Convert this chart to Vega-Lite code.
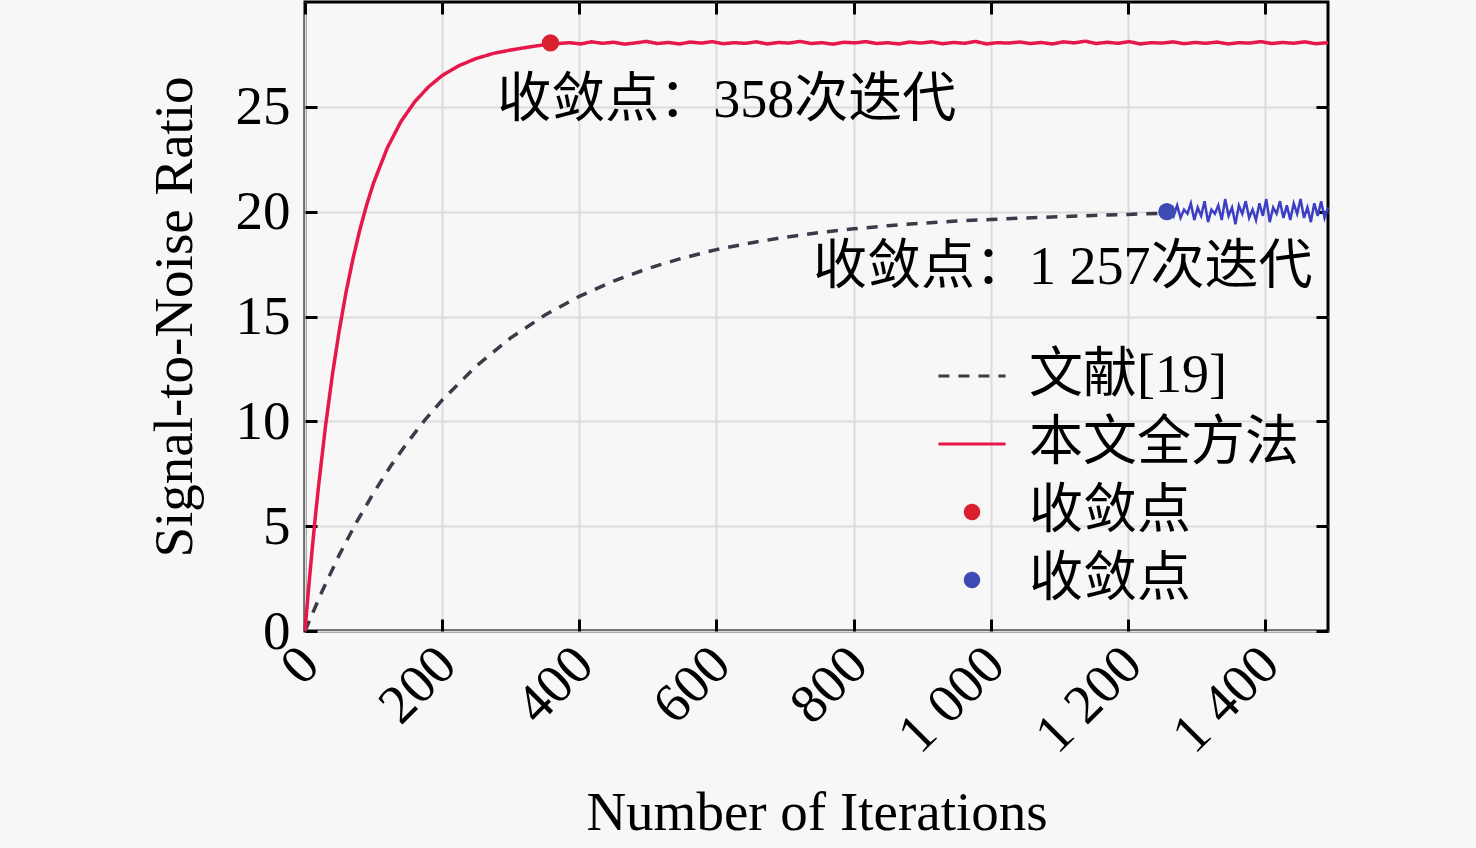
{
  "$schema": "https://vega.github.io/schema/vega-lite/v6.json",
  "width": 1023,
  "height": 629,
  "autosize": {"type": "none"},
  "padding": {"left": 305, "top": 2, "right": 148, "bottom": 217},
  "background": "#f7f7f7",
  "config": {
    "font": "Liberation Serif, Noto Sans CJK SC",
    "view": {"stroke": "black", "strokeWidth": 3},
    "axis": {
      "labelFont": "Liberation Serif",
      "labelFontSize": 55,
      "labelColor": "black",
      "titleFont": "Liberation Serif",
      "titleFontSize": 55,
      "titleFontWeight": "normal",
      "titleColor": "black",
      "domain": false,
      "offset": -12,
      "tickSize": 12,
      "tickWidth": 3,
      "tickColor": "black",
      "grid": false,
      "gridColor": "#dcdcdc",
      "gridWidth": 2,
      "labelFlush": false,
      "labelOverlap": false
    }
  },
  "datasets": {
    "curves": [
      {"series": "文献[19]", "iteration": 0, "snr": 0},
      {"series": "文献[19]", "iteration": 25, "snr": 1.9},
      {"series": "文献[19]", "iteration": 50, "snr": 3.63},
      {"series": "文献[19]", "iteration": 75, "snr": 5.18},
      {"series": "文献[19]", "iteration": 100, "snr": 6.59},
      {"series": "文献[19]", "iteration": 125, "snr": 7.87},
      {"series": "文献[19]", "iteration": 150, "snr": 9.02},
      {"series": "文献[19]", "iteration": 175, "snr": 10.07},
      {"series": "文献[19]", "iteration": 200, "snr": 11.01},
      {"series": "文献[19]", "iteration": 250, "snr": 12.64},
      {"series": "文献[19]", "iteration": 300, "snr": 13.98},
      {"series": "文献[19]", "iteration": 350, "snr": 15.07},
      {"series": "文献[19]", "iteration": 400, "snr": 15.96},
      {"series": "文献[19]", "iteration": 450, "snr": 16.69},
      {"series": "文献[19]", "iteration": 500, "snr": 17.29},
      {"series": "文献[19]", "iteration": 550, "snr": 17.78},
      {"series": "文献[19]", "iteration": 600, "snr": 18.19},
      {"series": "文献[19]", "iteration": 650, "snr": 18.51},
      {"series": "文献[19]", "iteration": 700, "snr": 18.78},
      {"series": "文献[19]", "iteration": 750, "snr": 19.0},
      {"series": "文献[19]", "iteration": 800, "snr": 19.18},
      {"series": "文献[19]", "iteration": 850, "snr": 19.33},
      {"series": "文献[19]", "iteration": 900, "snr": 19.45},
      {"series": "文献[19]", "iteration": 950, "snr": 19.55},
      {"series": "文献[19]", "iteration": 1000, "snr": 19.63},
      {"series": "文献[19]", "iteration": 1050, "snr": 19.7},
      {"series": "文献[19]", "iteration": 1100, "snr": 19.76},
      {"series": "文献[19]", "iteration": 1150, "snr": 19.82},
      {"series": "文献[19]", "iteration": 1200, "snr": 19.87},
      {"series": "文献[19]", "iteration": 1257, "snr": 19.93},
      {"series": "本文全方法", "iteration": 0, "snr": 0},
      {"series": "本文全方法", "iteration": 5, "snr": 1.94},
      {"series": "本文全方法", "iteration": 10, "snr": 3.74},
      {"series": "本文全方法", "iteration": 15, "snr": 5.42},
      {"series": "本文全方法", "iteration": 20, "snr": 6.98},
      {"series": "本文全方法", "iteration": 30, "snr": 9.79},
      {"series": "本文全方法", "iteration": 40, "snr": 12.23},
      {"series": "本文全方法", "iteration": 50, "snr": 14.34},
      {"series": "本文全方法", "iteration": 60, "snr": 16.18},
      {"series": "本文全方法", "iteration": 70, "snr": 17.76},
      {"series": "本文全方法", "iteration": 80, "snr": 19.14},
      {"series": "本文全方法", "iteration": 90, "snr": 20.33},
      {"series": "本文全方法", "iteration": 100, "snr": 21.37},
      {"series": "本文全方法", "iteration": 120, "snr": 23.04},
      {"series": "本文全方法", "iteration": 140, "snr": 24.3},
      {"series": "本文全方法", "iteration": 160, "snr": 25.24},
      {"series": "本文全方法", "iteration": 180, "snr": 25.95},
      {"series": "本文全方法", "iteration": 200, "snr": 26.49},
      {"series": "本文全方法", "iteration": 225, "snr": 26.97},
      {"series": "本文全方法", "iteration": 250, "snr": 27.31},
      {"series": "本文全方法", "iteration": 275, "snr": 27.55},
      {"series": "本文全方法", "iteration": 300, "snr": 27.71},
      {"series": "本文全方法", "iteration": 330, "snr": 27.87},
      {"series": "本文全方法", "iteration": 358, "snr": 28.0},
      {"series": "本文全方法", "iteration": 370, "snr": 28.02},
      {"series": "本文全方法", "iteration": 386, "snr": 28.06},
      {"series": "本文全方法", "iteration": 402, "snr": 28.0},
      {"series": "本文全方法", "iteration": 418, "snr": 28.1},
      {"series": "本文全方法", "iteration": 434, "snr": 28.03},
      {"series": "本文全方法", "iteration": 450, "snr": 28.08},
      {"series": "本文全方法", "iteration": 466, "snr": 27.99},
      {"series": "本文全方法", "iteration": 482, "snr": 28.05},
      {"series": "本文全方法", "iteration": 498, "snr": 28.12},
      {"series": "本文全方法", "iteration": 514, "snr": 28.02},
      {"series": "本文全方法", "iteration": 530, "snr": 28.07},
      {"series": "本文全方法", "iteration": 546, "snr": 28.0},
      {"series": "本文全方法", "iteration": 562, "snr": 28.09},
      {"series": "本文全方法", "iteration": 578, "snr": 28.04},
      {"series": "本文全方法", "iteration": 594, "snr": 28.11},
      {"series": "本文全方法", "iteration": 610, "snr": 28.01},
      {"series": "本文全方法", "iteration": 626, "snr": 28.06},
      {"series": "本文全方法", "iteration": 642, "snr": 28.03},
      {"series": "本文全方法", "iteration": 658, "snr": 28.1},
      {"series": "本文全方法", "iteration": 674, "snr": 28.0},
      {"series": "本文全方法", "iteration": 690, "snr": 28.07},
      {"series": "本文全方法", "iteration": 706, "snr": 28.04},
      {"series": "本文全方法", "iteration": 722, "snr": 28.12},
      {"series": "本文全方法", "iteration": 738, "snr": 28.02},
      {"series": "本文全方法", "iteration": 754, "snr": 28.06},
      {"series": "本文全方法", "iteration": 770, "snr": 27.99},
      {"series": "本文全方法", "iteration": 786, "snr": 28.08},
      {"series": "本文全方法", "iteration": 802, "snr": 28.05},
      {"series": "本文全方法", "iteration": 818, "snr": 28.11},
      {"series": "本文全方法", "iteration": 834, "snr": 28.02},
      {"series": "本文全方法", "iteration": 850, "snr": 28.06},
      {"series": "本文全方法", "iteration": 866, "snr": 28.0},
      {"series": "本文全方法", "iteration": 882, "snr": 28.09},
      {"series": "本文全方法", "iteration": 898, "snr": 28.04},
      {"series": "本文全方法", "iteration": 914, "snr": 28.1},
      {"series": "本文全方法", "iteration": 930, "snr": 28.01},
      {"series": "本文全方法", "iteration": 946, "snr": 28.07},
      {"series": "本文全方法", "iteration": 962, "snr": 28.03},
      {"series": "本文全方法", "iteration": 978, "snr": 28.12},
      {"series": "本文全方法", "iteration": 994, "snr": 28.0},
      {"series": "本文全方法", "iteration": 1010, "snr": 28.06},
      {"series": "本文全方法", "iteration": 1026, "snr": 28.04},
      {"series": "本文全方法", "iteration": 1042, "snr": 28.09},
      {"series": "本文全方法", "iteration": 1058, "snr": 28.02},
      {"series": "本文全方法", "iteration": 1074, "snr": 28.07},
      {"series": "本文全方法", "iteration": 1090, "snr": 28.0},
      {"series": "本文全方法", "iteration": 1106, "snr": 28.1},
      {"series": "本文全方法", "iteration": 1122, "snr": 28.05},
      {"series": "本文全方法", "iteration": 1138, "snr": 28.13},
      {"series": "本文全方法", "iteration": 1154, "snr": 28.02},
      {"series": "本文全方法", "iteration": 1170, "snr": 28.08},
      {"series": "本文全方法", "iteration": 1186, "snr": 28.03},
      {"series": "本文全方法", "iteration": 1202, "snr": 28.11},
      {"series": "本文全方法", "iteration": 1218, "snr": 28.0},
      {"series": "本文全方法", "iteration": 1234, "snr": 28.06},
      {"series": "本文全方法", "iteration": 1250, "snr": 28.04},
      {"series": "本文全方法", "iteration": 1266, "snr": 28.1},
      {"series": "本文全方法", "iteration": 1282, "snr": 28.01},
      {"series": "本文全方法", "iteration": 1298, "snr": 28.07},
      {"series": "本文全方法", "iteration": 1314, "snr": 28.03},
      {"series": "本文全方法", "iteration": 1330, "snr": 28.09},
      {"series": "本文全方法", "iteration": 1346, "snr": 28.0},
      {"series": "本文全方法", "iteration": 1362, "snr": 28.06},
      {"series": "本文全方法", "iteration": 1378, "snr": 28.04},
      {"series": "本文全方法", "iteration": 1394, "snr": 28.11},
      {"series": "本文全方法", "iteration": 1410, "snr": 28.02},
      {"series": "本文全方法", "iteration": 1426, "snr": 28.07},
      {"series": "本文全方法", "iteration": 1442, "snr": 28.03},
      {"series": "本文全方法", "iteration": 1458, "snr": 28.1},
      {"series": "本文全方法", "iteration": 1474, "snr": 28.01},
      {"series": "本文全方法", "iteration": 1492, "snr": 28.06}
    ],
    "noise": [
      {"iteration": 1257, "snr": 20.0},
      {"iteration": 1262, "snr": 20.2},
      {"iteration": 1267, "snr": 19.8},
      {"iteration": 1272, "snr": 20.3},
      {"iteration": 1277, "snr": 19.7},
      {"iteration": 1282, "snr": 20.1},
      {"iteration": 1287, "snr": 19.9},
      {"iteration": 1292, "snr": 20.4},
      {"iteration": 1297, "snr": 19.6},
      {"iteration": 1302, "snr": 20.2},
      {"iteration": 1307, "snr": 19.8},
      {"iteration": 1312, "snr": 20.5},
      {"iteration": 1317, "snr": 19.5},
      {"iteration": 1322, "snr": 20.1},
      {"iteration": 1327, "snr": 19.9},
      {"iteration": 1332, "snr": 20.3},
      {"iteration": 1337, "snr": 19.6},
      {"iteration": 1342, "snr": 20.6},
      {"iteration": 1347, "snr": 19.8},
      {"iteration": 1352, "snr": 20.2},
      {"iteration": 1357, "snr": 19.4},
      {"iteration": 1362, "snr": 20.3},
      {"iteration": 1367, "snr": 19.9},
      {"iteration": 1372, "snr": 20.5},
      {"iteration": 1377, "snr": 19.7},
      {"iteration": 1382, "snr": 20.1},
      {"iteration": 1387, "snr": 19.6},
      {"iteration": 1392, "snr": 20.4},
      {"iteration": 1397, "snr": 19.8},
      {"iteration": 1402, "snr": 20.6},
      {"iteration": 1407, "snr": 19.5},
      {"iteration": 1412, "snr": 20.2},
      {"iteration": 1417, "snr": 19.9},
      {"iteration": 1422, "snr": 20.5},
      {"iteration": 1427, "snr": 19.7},
      {"iteration": 1432, "snr": 20.3},
      {"iteration": 1437, "snr": 19.6},
      {"iteration": 1442, "snr": 20.4},
      {"iteration": 1447, "snr": 19.9},
      {"iteration": 1452, "snr": 20.6},
      {"iteration": 1457, "snr": 19.7},
      {"iteration": 1462, "snr": 20.2},
      {"iteration": 1467, "snr": 19.5},
      {"iteration": 1472, "snr": 20.4},
      {"iteration": 1477, "snr": 19.8},
      {"iteration": 1482, "snr": 20.5},
      {"iteration": 1487, "snr": 19.7},
      {"iteration": 1492, "snr": 20.2}
    ],
    "points": [
      {"series": "收敛点A", "iteration": 358, "snr": 28.05},
      {"series": "收敛点B", "iteration": 1257, "snr": 20.0}
    ],
    "one": [{}]
  },
  "layer": [
    {
      "data": {"name": "noise"},
      "mark": {"type": "line", "strokeWidth": 2.5, "color": "#3c3fc4"},
      "encoding": {
        "x": {
          "field": "iteration",
          "type": "quantitative",
          "axis": {"orient": "bottom", "offset": 0, "grid": true, "ticks": false, "labels": false, "title": null, "values": [0, 200, 400, 600, 800, 1000, 1200, 1400]}
        },
        "y": {
          "field": "snr",
          "type": "quantitative",
          "axis": {"orient": "left", "offset": 0, "grid": true, "ticks": false, "labels": false, "title": null, "values": [0, 5, 10, 15, 20, 25]}
        }
      }
    },
    {
      "data": {"name": "curves"},
      "mark": {"type": "line", "strokeWidth": 3.5},
      "encoding": {
        "x": {
          "field": "iteration",
          "type": "quantitative",
          "scale": {"domain": [0, 1492], "nice": false},
          "axis": {
            "orient": "bottom",
            "values": [0, 200, 400, 600, 800, 1000, 1200, 1400],
            "labelAngle": -45,
            "labelPadding": 6,
            "labelOffset": -14,
            "labelExpr": "datum.value >= 1000 ? replace(format(datum.value, ','), ',', ' ') : datum.label",
            "title": "Number of Iterations",
            "titlePadding": 24
          }
        },
        "y": {
          "field": "snr",
          "type": "quantitative",
          "scale": {"domain": [0, 30], "nice": false},
          "axis": {
            "orient": "left",
            "values": [0, 5, 10, 15, 20, 25],
            "labelPadding": 15,
            "title": "Signal-to-Noise Ratio",
            "titlePadding": 32
          }
        },
        "color": {
          "field": "series",
          "type": "nominal",
          "scale": {
            "domain": ["文献[19]", "本文全方法", "收敛点A", "收敛点B"],
            "range": ["#3a3a48", "#e6174b", "#d8202f", "#3d4bb5"]
          },
          "legend": {
            "title": null,
            "orient": "none",
            "legendX": 640,
            "legendY": 347,
            "padding": 0,
            "symbolSize": 180,
            "symbolStrokeWidth": 3,
            "symbolOpacity": 1,
            "labelFont": "Liberation Serif, Noto Sans CJK SC",
            "labelFontSize": 54,
            "labelColor": "black",
            "labelLimit": 0,
            "labelOffset": 30,
            "rowPadding": 14,
            "labelExpr": "indexof(datum.label, '收敛点') == 0 ? '收敛点' : datum.label"
          }
        },
        "strokeDash": {
          "field": "series",
          "type": "nominal",
          "scale": {
            "domain": ["文献[19]", "本文全方法", "收敛点A", "收敛点B"],
            "range": [[11, 9], [1, 0], [1, 0], [1, 0]]
          }
        }
      }
    },
    {
      "data": {"name": "points"},
      "mark": {"type": "point", "filled": true, "opacity": 1, "size": 300},
      "encoding": {
        "x": {
          "field": "iteration",
          "type": "quantitative",
          "axis": {"orient": "top", "labels": false, "title": null, "values": [0, 200, 400, 600, 800, 1000, 1200, 1400]}
        },
        "y": {
          "field": "snr",
          "type": "quantitative",
          "axis": {"orient": "right", "labels": false, "title": null, "values": [0, 5, 10, 15, 20, 25]}
        },
        "color": {"field": "series", "type": "nominal"},
        "shape": {
          "field": "series",
          "type": "nominal",
          "scale": {
            "domain": ["文献[19]", "本文全方法", "收敛点A", "收敛点B"],
            "range": ["M-5,0H5", "M-5,0H5", "circle", "circle"]
          }
        }
      }
    },
    {
      "data": {"name": "one"},
      "mark": {"type": "text", "text": "收敛点：358次迭代", "fontSize": 54, "font": "Liberation Serif, Noto Sans CJK SC", "align": "center", "baseline": "middle", "color": "black"},
      "encoding": {
        "x": {"datum": 615, "type": "quantitative", "axis": null},
        "y": {"datum": 25.3, "type": "quantitative", "axis": null}
      }
    },
    {
      "data": {"name": "one"},
      "mark": {"type": "text", "text": "收敛点：1 257次迭代", "fontSize": 54, "font": "Liberation Serif, Noto Sans CJK SC", "align": "center", "baseline": "middle", "color": "black"},
      "encoding": {
        "x": {"datum": 1105, "type": "quantitative", "axis": null},
        "y": {"datum": 17.3, "type": "quantitative", "axis": null}
      }
    }
  ],
  "resolve": {"axis": {"x": "independent", "y": "independent"}}
}
